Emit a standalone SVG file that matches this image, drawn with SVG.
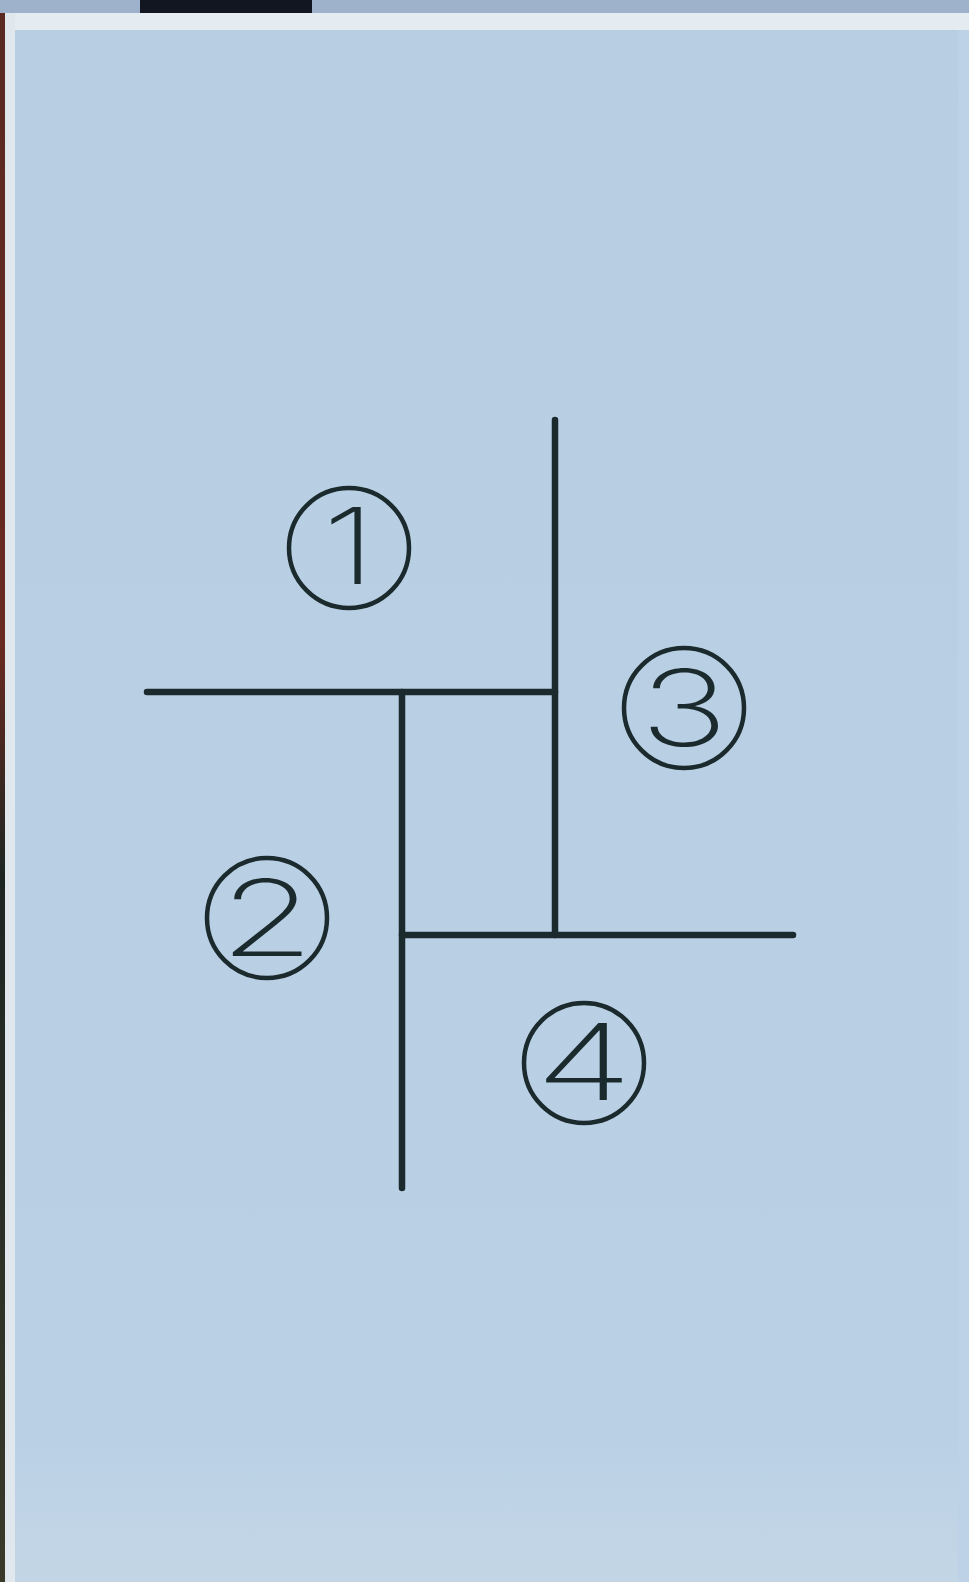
<svg xmlns="http://www.w3.org/2000/svg" width="969" height="1582" viewBox="0 0 969 1582">
<defs>
<style>
.ln{stroke:#1b2a2c;stroke-width:6.5;stroke-linecap:round;fill:none}
.ring{fill:none;stroke:#1b2a2c;stroke-width:4.5}
.num{font-family:Inter,"Open Sans","Liberation Sans",sans-serif;font-weight:200;font-size:106px;fill:#1b2a2c;text-anchor:middle}
</style>
<linearGradient id="bg" x1="0" y1="0" x2="0" y2="1">
<stop offset="0" stop-color="#b7cee3"/>
<stop offset="0.9" stop-color="#b9d0e5"/>
<stop offset="1" stop-color="#c3d6e6"/>
</linearGradient>
<linearGradient id="edge" x1="0" y1="0" x2="0" y2="1">
<stop offset="0" stop-color="#5a2a22"/>
<stop offset="0.4" stop-color="#6a2a20"/>
<stop offset="0.55" stop-color="#1e2622"/>
<stop offset="1" stop-color="#3a3a2a"/>
</linearGradient>
</defs>
<rect x="0" y="0" width="969" height="1582" fill="url(#bg)"/>
<rect x="0" y="0" width="969" height="13" fill="#9fb2cc"/>
<rect x="140" y="0" width="172" height="13" fill="#121620"/>
<rect x="0" y="13" width="969" height="17" fill="#e4ecf1"/>
<rect x="0" y="13" width="5" height="1569" fill="url(#edge)"/>
<rect x="5" y="13" width="10" height="1569" fill="#e0e8ee"/>
<rect x="958" y="30" width="11" height="1552" fill="#bdd2e6"/>
<g id="connectors">
<line class="ln" x1="555" y1="420" x2="555" y2="935"/>
<line class="ln" x1="147" y1="692" x2="555" y2="692"/>
<line class="ln" x1="402" y1="692" x2="402" y2="1188"/>
<line class="ln" x1="402" y1="935" x2="793" y2="935"/>
</g>
<g id="n1"><circle class="ring" cx="349" cy="548" r="60"/><text class="num" transform="translate(349,584) scale(1.3,1)" x="0" y="0">1</text></g>
<g id="n2"><circle class="ring" cx="267" cy="918" r="60"/><text class="num" transform="translate(267,956) scale(1.45,1)" x="0" y="0">2</text></g>
<g id="n3"><circle class="ring" cx="684" cy="708" r="60"/><text class="num" transform="translate(684,746) scale(1.4,1)" x="0" y="0">3</text></g>
<g id="n4"><circle class="ring" cx="584" cy="1063" r="60"/><text class="num" transform="translate(584,1100) scale(1.5,1)" x="0" y="0">4</text></g>
</svg>
